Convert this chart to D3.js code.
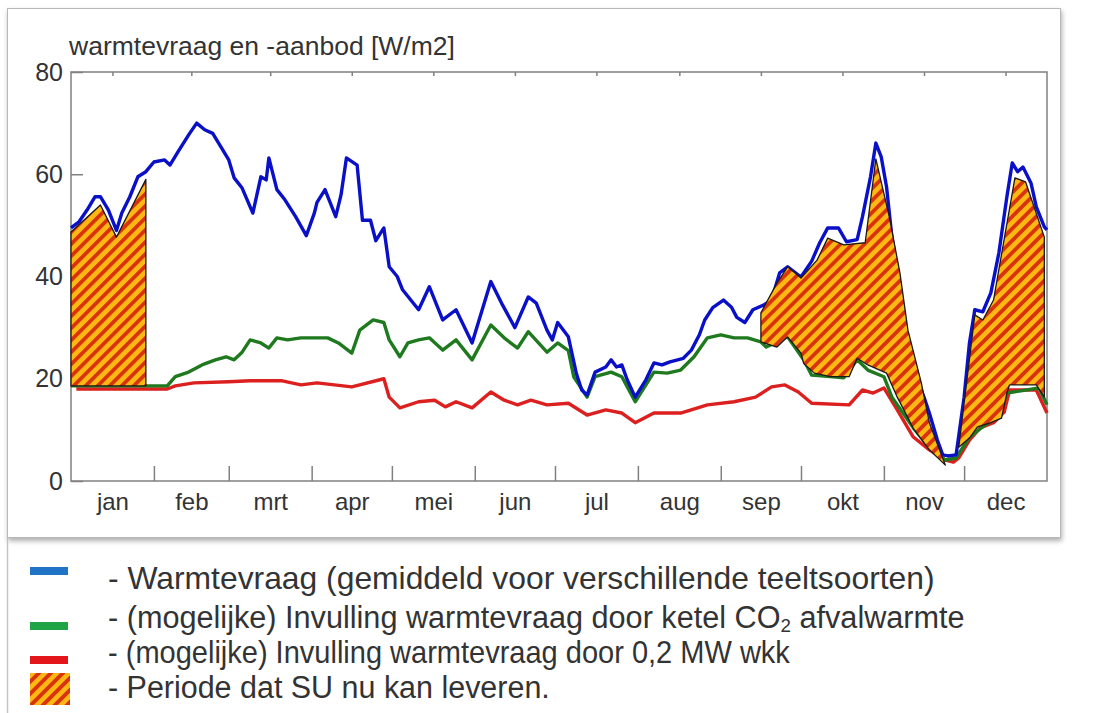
<!DOCTYPE html>
<html lang="nl">
<head>
<meta charset="UTF-8">
<title>Warmtevraag en -aanbod</title>
<script src="https://d3js.org/d3.v7.min.js"></script>
<style>
    body { margin: 0; background: #fff; }
    svg text { font-family: "Liberation Sans", Arial, sans-serif; }
    .legend text { fill: #333; }
</style>
</head>
<body>
<div id="chart"></div>
<script>
// ---- data: [dag van het jaar, W/m2] ----
var warmtevraag = [[0,49.5],[3,50.7],[6,53],[9,55.6],[11,55.6],[14,53],[17,49],[19,52.4],[22,55.6],[25,59.5],[28,60.5],[31,62.4],[35,62.8],[37,61.8],[40,64.4],[44,67.7],[47,70],[50,68.7],[53,68],[56,65.4],[59,62.8],[61,59.3],[64,57.3],[68,52.4],[71,59.5],[73,58.9],[74,63.2],[77,57],[80,55],[84,51.7],[88,48],[91,52.4],[92,54.5],[95,57],[99,51.7],[101,56],[103,63.2],[107,61.8],[109,51],[112,51],[114,47],[117,49.5],[119,41.9],[122,40],[124,37.4],[130,33.5],[134,38],[139,31.5],[144,33.5],[150,27],[157,39],[161,34.8],[166,30],[171,36],[174,34.8],[178,29.5],[180,27.6],[182,31],[186,28.2],[189,21],[191,17.8],[193,16.8],[196,21.3],[200,22.3],[202,23.7],[204,22.3],[206,22.7],[208,19.8],[211,16.4],[215,19.8],[218,23.1],[221,22.7],[224,23.3],[229,24],[232,25.6],[235,28.6],[237,31.5],[240,33.9],[244,35.4],[247,34],[249,32],[252,31],[255,33.5],[259,34.4],[262,35.4],[265,40.7],[268,41.9],[273,39.9],[277,43],[280,46.6],[283,49.5],[287,49.5],[290,46.8],[294,47.2],[296,51.7],[299,59.5],[301,66.1],[303,63.4],[305,57.5],[307,47.7],[310,38],[313,27],[316,20.4],[319,16.4],[321,13.3],[324,8],[326,5.1],[328,4.9],[331,5.1],[334,16.4],[336,27],[338,33.5],[341,33.1],[344,36.8],[347,44.6],[350,55.6],[352,62.2],[354,60.5],[356,61.4],[359,58.3],[361,53.6],[364,49.7],[365,49.1]];

var ketelCO2 = [[0,18.6],[36,18.6],[39,20.4],[44,21.3],[49,22.7],[54,23.7],[58,24.3],[61,23.7],[64,25.2],[67,27.6],[71,27],[74,26],[77,28],[81,27.6],[86,28],[92,28],[96,28],[100,27],[105,25],[108,29.5],[113,31.5],[117,31],[119,27.6],[123,24.3],[126,27],[130,27.6],[134,28],[139,25.6],[144,27.6],[150,23.7],[157,30.5],[162,28],[167,26],[171,29.2],[178,25.2],[182,27],[186,25.5],[188,20.4],[193,16.4],[196,20.4],[202,21.3],[206,20.4],[211,15.5],[218,21.3],[223,21.1],[228,21.7],[233,24.3],[238,28],[243,28.6],[248,28],[253,28],[258,27.2],[260,26.2],[268,28.2],[274,23.7],[277,20.7],[285,20.4],[289,20.2],[294,23.7],[298,21.7],[304,20.4],[307,16.4],[315,10.4],[321,6.5],[327,4.1],[331,4.5],[336,8.6],[342,11],[347,12.9],[350,17.2],[362,18.2],[365,14.9]];

var wkk = [[2,18],[36,18],[39,18.6],[46,19.2],[59,19.4],[67,19.6],[79,19.6],[86,18.8],[92,19.2],[105,18.4],[117,20],[119,16.4],[123,14.3],[130,15.5],[136,15.8],[140,14.5],[144,15.5],[150,14.3],[157,17.4],[162,15.8],[167,14.9],[172,15.8],[178,14.9],[186,15.2],[193,12.9],[200,13.9],[206,13.3],[211,11.4],[218,13.3],[228,13.3],[238,14.9],[248,15.5],[256,16.4],[262,18.4],[267,18.8],[272,17.4],[277,15.2],[291,14.9],[296,17.8],[300,17.2],[304,18.2],[309,13.9],[315,8.6],[321,6.1],[327,4.1],[330,3.7],[332,4.5],[336,8],[340,10.4],[345,11.4],[349,13.5],[351,17.8],[361,17.8],[365,13.3]];

// periodes dat SU kan leveren (omtrek: bovenrand, dan onderrand terug)
var suJan = [[0,48.7],[11,54],[17,47.7],[28,59],[28,18.6],[0,18.6]];
var suOkt = [[258,32.9],[264,38.7],[268,41.9],[273,39.7],[279,43.2],[283,47.5],[289,46.2],[297,46.6],[301,63],[306,51.7],[310,40.7],[313,29.5],[318,19.2],[321,11.4],[327,3.1],[321,6.1],[315,10.3],[309,16.4],[305,21.1],[298,22.7],[294,24],[291,20.4],[284,20.4],[278,21.1],[274,23],[273,25],[268,28.2],[264,26.2],[258,27.2]];
var suDec = [[332,6.6],[338,32.5],[341,31.5],[345,35.4],[353,59.3],[357,58.5],[364,47.7],[364,16.4],[361,18.8],[351,18.8],[350,17.2],[348,12.3],[344,11.4],[339,10.6],[336,8.4]];

var monthLabels = ["jan","feb","mrt","apr","mei","jun","jul","aug","sep","okt","nov","dec"];
var yTicks = [0, 20, 40, 60, 80];
var legendLabels = [
    "- Warmtevraag (gemiddeld voor verschillende teeltsoorten)",
    ["- (mogelijke) Invulling warmtevraag door ketel CO", "2", " afvalwarmte"],
    "- (mogelijke) Invulling warmtevraag door 0,2 MW wkk",
    "- Periode dat SU nu kan leveren."
];

var width = 1102, height = 713;
var plot = {left: 71, right: 1047, top: 72, bottom: 481};

var svg = d3.select("#chart").append("svg")
    .attr("width", width)
    .attr("height", height);

var defs = svg.append("defs");
var pat = defs.append("pattern")
    .attr("id", "su")
    .attr("patternUnits", "userSpaceOnUse")
    .attr("width", 8.5).attr("height", 8.5)
    .attr("patternTransform", "rotate(45)");
pat.append("rect").attr("width", 8.5).attr("height", 8.5).attr("fill", "#fdb813");
pat.append("rect").attr("width", 3.8).attr("height", 8.5).attr("fill", "#d8330c");

var shadow = defs.append("filter").attr("id", "shadow")
    .attr("x", "-5%").attr("y", "-5%").attr("width", "110%").attr("height", "115%");
shadow.append("feDropShadow")
    .attr("dx", 1).attr("dy", 3).attr("stdDeviation", 2.5)
    .attr("flood-color", "#777").attr("flood-opacity", 0.6);

// kader rond de grafiek
svg.append("rect")
    .attr("x", 7.5).attr("y", 8.5)
    .attr("width", 1053).attr("height", 529)
    .attr("fill", "#fff")
    .attr("stroke", "#b8b8b8")
    .attr("filter", "url(#shadow)");
svg.append("line")
    .attr("x1", 7.5).attr("x2", 7.5).attr("y1", 538).attr("y2", height)
    .attr("stroke", "#c4c4c4").attr("stroke-width", 1.5);

var start = new Date(2023, 0, 1), end = new Date(2024, 0, 1);
var x = d3.scaleTime().domain([start, end]).range([plot.left, plot.right]);
var y = d3.scaleLinear().domain([0, 80]).range([plot.bottom, plot.top]);
var day = d => d3.timeDay.offset(start, d);

var months = d3.timeMonth.range(start, end);
var boundaries = months.slice(1);
var mids = months.map(m => new Date((+m + +d3.timeMonth.offset(m, 1)) / 2));

function styleAxis(g, size) {
    g.attr("font-family", null).attr("font-size", size);
    g.select(".domain").remove();
    g.selectAll(".tick line").attr("stroke", "#808080").attr("stroke-width", 1.5);
    g.selectAll(".tick text").attr("fill", "#333");
}

// frame
svg.append("rect")
    .attr("x", plot.left).attr("y", plot.top)
    .attr("width", plot.right - plot.left).attr("height", plot.bottom - plot.top)
    .attr("fill", "none").attr("stroke", "#808080").attr("stroke-width", 1.5);

svg.append("g")
    .attr("transform", "translate(0," + plot.bottom + ")")
    .call(d3.axisBottom(x).tickValues(boundaries).tickSize(-15).tickFormat(""))
    .call(g => styleAxis(g, 24));

svg.append("g")
    .attr("transform", "translate(0," + plot.bottom + ")")
    .call(d3.axisBottom(x).tickValues(mids).tickSize(0).tickPadding(12).tickFormat((d, i) => monthLabels[i]))
    .call(g => styleAxis(g, 24));

svg.append("g")
    .attr("transform", "translate(0," + plot.top + ")")
    .call(d3.axisTop(x).tickValues(mids).tickSize(-4).tickFormat(""))
    .call(g => styleAxis(g, 24));

svg.append("g")
    .attr("transform", "translate(" + plot.left + ",0)")
    .call(d3.axisLeft(y).tickValues(yTicks).tickSize(-12).tickPadding(8))
    .call(g => styleAxis(g, 25));

svg.append("text")
    .attr("x", 69).attr("y", 55)
    .attr("font-size", 26.5)
    .attr("fill", "#333")
    .text("warmtevraag en -aanbod [W/m2]");

var line = d3.line()
    .x(d => x(day(d[0])))
    .y(d => y(d[1]));

[[wkk, "#dc1f1f"], [ketelCO2, "#1f7a1f"], [warmtevraag, "#0a10c8"]].forEach(function(s) {
    svg.append("path")
        .datum(s[0])
        .attr("fill", "none")
        .attr("stroke", s[1])
        .attr("stroke-width", 3.4)
        .attr("stroke-linejoin", "round")
        .attr("d", line);
});

[suJan, suOkt, suDec].forEach(function(p) {
    svg.append("path")
        .datum(p)
        .attr("fill", "url(#su)")
        .attr("stroke", "#1a1a1a")
        .attr("stroke-width", 1.3)
        .attr("stroke-linejoin", "round")
        .attr("d", d => line(d) + "Z");
});

// legenda
var legend = svg.append("g").attr("class", "legend");
var swatch = ["#1f74c6", "#1ea446", "#e3161c"];
var rowY = [589, 628, 663, 698];
var rowW = [827, 857, 682, 442];

swatch.forEach(function(c, i) {
    legend.append("rect")
        .attr("x", 30).attr("y", [567, 622, 656][i])
        .attr("width", 38).attr("height", 8)
        .attr("fill", c);
});
legend.append("rect")
    .attr("x", 30).attr("y", 673)
    .attr("width", 40).attr("height", 32)
    .attr("fill", "url(#su)");

// smalle letter (zoals Arial Narrow) door horizontaal te schalen
legendLabels.forEach(function(lab, i) {
    var t = legend.append("text")
        .attr("font-size", 31);
    if (Array.isArray(lab)) {
        t.append("tspan").text(lab[0]);
        t.append("tspan").attr("font-size", 19).attr("dy", 4).text(lab[1]);
        t.append("tspan").attr("dy", -4).text(lab[2]);
    } else {
        t.text(lab);
    }
    var k = rowW[i] / t.node().getComputedTextLength();
    t.attr("transform", "translate(108," + rowY[i] + ") scale(" + k + ",1)");
});
</script>
</body>
</html>
